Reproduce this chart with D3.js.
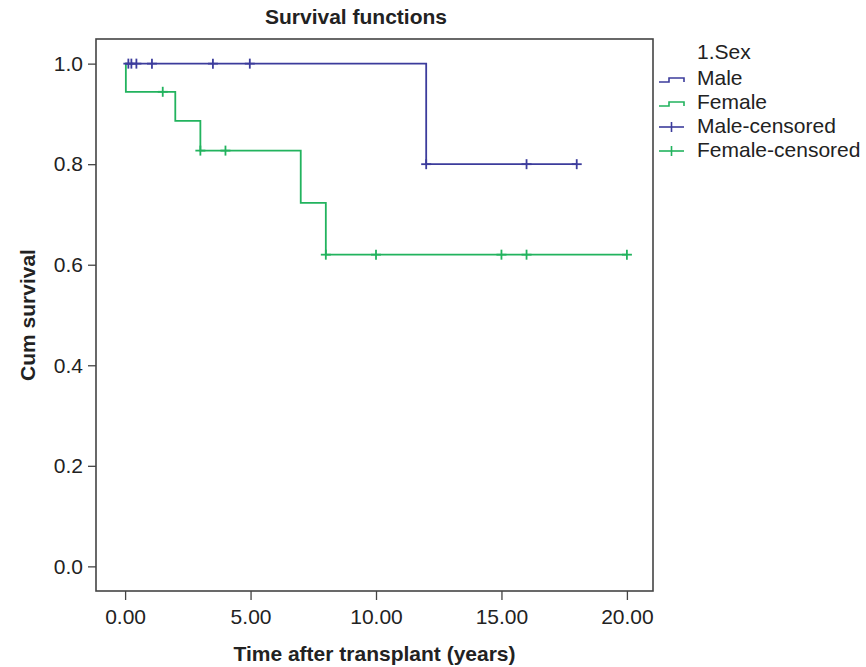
<!DOCTYPE html>
<html>
<head>
<meta charset="utf-8">
<script src="https://cdn.jsdelivr.net/npm/d3@7"></script>
<style>
  body { margin: 0; background: #fff; }
  svg text { font-family: "Liberation Sans", Arial, sans-serif; fill: #222; }
</style>
</head>
<body>
<svg id="chart" width="866" height="667"></svg>
<script>
// Kaplan-Meier steps
const maleTimes = [0, 12];
const maleSurv = [1.0, 0.80];
const maleEnd = 18;
const femaleTimes = [0, 0.03, 2, 3, 7, 8];
const femaleSurv = [1.0, 0.944, 0.886, 0.827, 0.723, 0.620];
const femaleEnd = 20;

// censored observations
const maleCensTimes = [0.13, 0.25, 0.45, 1.07, 3.5, 4.97, 12, 16, 18];
const maleCensSurv = [1, 1, 1, 1, 1, 1, 0.8, 0.8, 0.8];
const femaleCensTimes = [1.5, 3, 4, 8, 10, 15, 16, 20];
const femaleCensSurv = [0.944, 0.827, 0.827, 0.62, 0.62, 0.62, 0.62, 0.62];

const xTicks = [0, 5, 10, 15, 20];
const yTicks = [0, 0.2, 0.4, 0.6, 0.8, 1.0];
const legendLabels = ["Male", "Female", "Male-censored", "Female-censored"];

const blue = "#3c3c9c", green = "#22b35e";
const fs = 21;

const svg = d3.select("#chart");
const x = d3.scaleLinear().domain([-1.16, 21.04]).range([96, 653]);
const y = d3.scaleLinear().domain([-0.049, 1.049]).range([591, 39]);

// axes
svg.append("g")
  .attr("transform", "translate(96,0)")
  .call(d3.axisLeft(y).tickValues(yTicks).tickFormat(d3.format(".1f")).tickSize(8).tickPadding(5))
  .call(g => g.select(".domain").remove())
  .call(g => g.selectAll("line").attr("stroke", "#444").attr("stroke-width", 1.3))
  .call(g => g.selectAll("text").attr("font-size", fs).style("fill", "#222"));

svg.append("g")
  .attr("transform", "translate(0,591)")
  .call(d3.axisBottom(x).tickValues(xTicks).tickFormat(d3.format(".2f")).tickSize(9).tickPadding(9))
  .call(g => g.select(".domain").remove())
  .call(g => g.selectAll("line").attr("stroke", "#444").attr("stroke-width", 1.3))
  .call(g => g.selectAll("text").attr("font-size", fs).style("fill", "#222"));

// frame
svg.append("rect")
  .attr("x", x.range()[0]).attr("y", y.range()[1])
  .attr("width", x.range()[1] - x.range()[0])
  .attr("height", y.range()[0] - y.range()[1])
  .attr("fill", "none").attr("stroke", "#444").attr("stroke-width", 1.6);

// survival step lines
function stepData(times, surv, end) {
  let pts = times.map((t, i) => [t, surv[i]]);
  pts.push([end, surv[surv.length - 1]]);
  return pts;
}
const line = d3.line().x(d => x(d[0])).y(d => y(d[1])).curve(d3.curveStepAfter);

svg.append("path")
  .datum(stepData(femaleTimes, femaleSurv, femaleEnd))
  .attr("d", line).attr("fill", "none").attr("stroke", green).attr("stroke-width", 1.8);

svg.append("path")
  .datum(stepData(maleTimes, maleSurv, maleEnd))
  .attr("d", line).attr("fill", "none").attr("stroke", blue).attr("stroke-width", 1.8);

// censor marks (+)
function censors(times, surv, color) {
  const g = svg.append("g").attr("stroke", color).attr("stroke-width", 1.8);
  times.forEach((t, i) => {
    g.append("line").attr("x1", x(t)).attr("x2", x(t)).attr("y1", y(surv[i]) - 5).attr("y2", y(surv[i]) + 5);
    g.append("line").attr("x1", x(t) - 5).attr("x2", x(t) + 5).attr("y1", y(surv[i])).attr("y2", y(surv[i]));
  });
}
censors(femaleCensTimes, femaleCensSurv, green);
censors(maleCensTimes, maleCensSurv, blue);

// titles
svg.append("text").attr("x", 356).attr("y", 24).attr("text-anchor", "middle")
  .attr("font-size", fs).attr("font-weight", "bold").text("Survival functions");
svg.append("text").attr("x", 374.5).attr("y", 661).attr("text-anchor", "middle")
  .attr("font-size", fs).attr("font-weight", "bold").text("Time after transplant (years)");
svg.append("text").attr("transform", "translate(35,315) rotate(-90)").attr("text-anchor", "middle")
  .attr("font-size", fs).attr("font-weight", "bold").text("Cum survival");

// legend
const lg = svg.append("g").attr("transform", "translate(657,0)");
lg.append("text").attr("x", 40).attr("y", 59).attr("font-size", fs).text("1.Sex");
const rowY = [85, 109, 133, 157];
const legColors = [blue, green, blue, green];
legendLabels.forEach((lab, i) => {
  const by = rowY[i];
  if (i < 2) {
    lg.append("path")
      .attr("d", `M2,${by - 3}H12V${by - 7}H27V${by - 3}`)
      .attr("fill", "none").attr("stroke", legColors[i]).attr("stroke-width", 1.6);
  } else {
    lg.append("line").attr("x1", 2).attr("x2", 27).attr("y1", by - 6).attr("y2", by - 6)
      .attr("stroke", legColors[i]).attr("stroke-width", 1.6);
    lg.append("line").attr("x1", 14.5).attr("x2", 14.5).attr("y1", by - 11).attr("y2", by - 1)
      .attr("stroke", legColors[i]).attr("stroke-width", 1.6);
  }
  lg.append("text").attr("x", 40).attr("y", by).attr("font-size", fs).text(lab);
});
</script>
</body>
</html>
